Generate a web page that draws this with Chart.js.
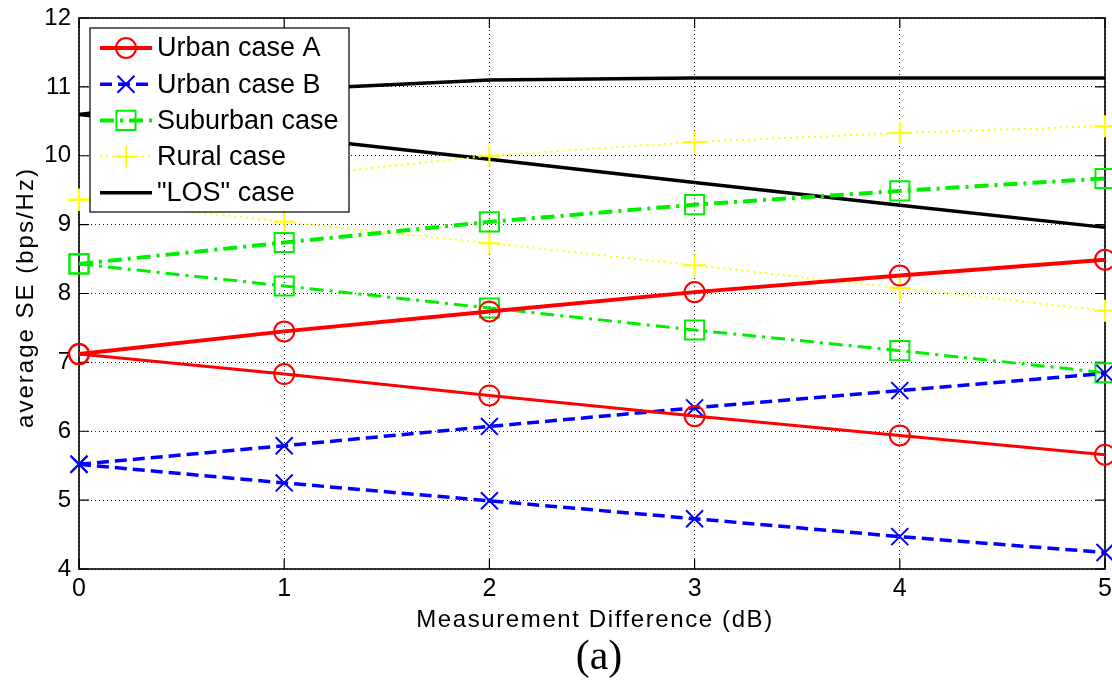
<!DOCTYPE html>
<html>
<head>
<meta charset="utf-8">
<script src="https://cdn.jsdelivr.net/npm/chart.js@4.4.1/dist/chart.umd.min.js"></script>
<style>
  html, body { margin: 0; padding: 0; background: #fff; }
  #wrap { width: 1112px; height: 683px; }
</style>
</head>
<body>
<div id="wrap"><canvas id="c" width="1112" height="683"></canvas></div>
<script>
// Measurement difference (dB) on the x axis
const diffDb = [0, 1, 2, 3, 4, 5];

// Average spectral efficiency (bps/Hz); each case has an upper and a lower branch
const urbanAUp   = [7.12, 7.45, 7.74, 8.02, 8.26, 8.49];
const urbanALow  = [7.12, 6.83, 6.52, 6.22, 5.94, 5.66];
const urbanBUp   = [5.52, 5.79, 6.07, 6.34, 6.59, 6.84];
const urbanBLow  = [5.52, 5.25, 4.99, 4.73, 4.47, 4.24];
const suburbUp   = [8.43, 8.74, 9.04, 9.29, 9.49, 9.67];
const suburbLow  = [8.43, 8.11, 7.79, 7.47, 7.17, 6.85];
const ruralUp    = [9.36, 9.69, 10.00, 10.20, 10.33, 10.43];
const ruralLow   = [9.36, 9.04, 8.73, 8.41, 8.08, 7.75];
const losUp      = [10.60, 10.96, 11.10, 11.13, 11.13, 11.13];
const losLow     = [10.60, 10.28, 9.95, 9.61, 9.28, 8.96];

const xTicks = [0, 1, 2, 3, 4, 5];
const yTicks = [4, 5, 6, 7, 8, 9, 10, 11, 12];

const seriesNames = ['Urban case A', 'Urban case B', 'Suburban case', 'Rural case', '"LOS" case'];
const xTitle = 'Measurement Difference (dB)';
const yTitle = 'average SE (bps/Hz)';
const panelLabel = '(a)';

const toPoints = arr => arr.map((v, i) => ({ x: diffDb[i], y: v }));

// Line/marker appearance for each case
const styles = [
  { color: '#ff0000', dash: [],            marker: 'circle',   radius: 10,   width: [4, 3] },
  { color: '#0000ff', dash: [12, 6],       marker: 'crossRot', radius: 12,   width: [3.5, 3.5] },
  { color: '#00ee00', dash: [14, 6, 3, 6], marker: 'rect',     radius: 13.5, width: [4, 3] },
  { color: '#ffff00', dash: [2, 4],        marker: 'cross',    radius: 11,   width: [2, 2] },
  { color: '#000000', dash: [],            marker: false,      radius: 0,    width: [3.5, 3.5] }
];
const branches = [
  [urbanAUp, urbanALow],
  [urbanBUp, urbanBLow],
  [suburbUp, suburbLow],
  [ruralUp, ruralLow],
  [losUp, losLow]
];

const datasets = [];
branches.forEach((pair, s) => {
  const st = styles[s];
  pair.forEach((arr, b) => {
    datasets.push({
      label: seriesNames[s],
      data: toPoints(arr),
      borderColor: st.color,
      borderWidth: st.width[b],
      borderDash: st.dash,
      pointStyle: st.marker,
      pointRadius: st.radius,
      pointHoverRadius: st.radius,
      pointBorderWidth: 2,
      pointBorderColor: st.color,
      pointBackgroundColor: 'rgba(0,0,0,0)',
      fill: false,
      tension: 0,
      clip: false
    });
  });
});

function drawMarker(ctx, style, r, x, y) {
  ctx.beginPath();
  if (style === 'circle') {
    ctx.arc(x, y, r, 0, Math.PI * 2);
  } else if (style === 'rect') {
    const h = r * Math.SQRT1_2;
    ctx.rect(x - h, y - h, 2 * h, 2 * h);
  } else if (style === 'cross') {
    ctx.moveTo(x - r, y); ctx.lineTo(x + r, y);
    ctx.moveTo(x, y - r); ctx.lineTo(x, y + r);
  } else if (style === 'crossRot') {
    const h = r * Math.SQRT1_2;
    ctx.moveTo(x - h, y - h); ctx.lineTo(x + h, y + h);
    ctx.moveTo(x - h, y + h); ctx.lineTo(x + h, y - h);
  }
  ctx.stroke();
}

// Axes box with inward tick marks
const boxPlugin = {
  id: 'box',
  beforeDatasetsDraw(chart) {
    const { ctx, chartArea: a, scales } = chart;
    const sx = scales.x, sy = scales.y;
    ctx.save();
    ctx.strokeStyle = '#000';
    ctx.setLineDash([]);
    ctx.lineWidth = 1.2;
    ctx.beginPath();
    xTicks.forEach(v => {
      const px = sx.getPixelForValue(v);
      ctx.moveTo(px, a.bottom); ctx.lineTo(px, a.bottom - 10);
      ctx.moveTo(px, a.top); ctx.lineTo(px, a.top + 10);
    });
    yTicks.forEach(v => {
      const py = sy.getPixelForValue(v);
      ctx.moveTo(a.left, py); ctx.lineTo(a.left + 10, py);
      ctx.moveTo(a.right, py); ctx.lineTo(a.right - 10, py);
    });
    ctx.stroke();
    ctx.lineWidth = 1.6;
    ctx.strokeRect(a.left, a.top, a.right - a.left, a.bottom - a.top);
    ctx.restore();
  }
};

// Legend box, axis titles and panel label
const textPlugin = {
  id: 'texts',
  afterDraw(chart) {
    const { ctx, chartArea: a } = chart;
    ctx.save();
    // legend
    const lx = 90, ly = 28, lw = 259, lh = 184;
    ctx.fillStyle = '#fff';
    ctx.fillRect(lx, ly, lw, lh);
    ctx.strokeStyle = '#000';
    ctx.lineWidth = 1.2;
    ctx.setLineDash([]);
    ctx.strokeRect(lx, ly, lw, lh);
    ctx.font = '27px Arial, "Liberation Sans", sans-serif';
    ctx.textBaseline = 'middle';
    ctx.textAlign = 'left';
    seriesNames.forEach((name, i) => {
      const st = styles[i];
      const cy = 48 + i * 36.2;
      ctx.strokeStyle = st.color;
      ctx.lineWidth = st.width[0];
      ctx.setLineDash(st.dash);
      ctx.beginPath();
      ctx.moveTo(100, cy); ctx.lineTo(152, cy);
      ctx.stroke();
      ctx.setLineDash([]);
      ctx.lineWidth = 2;
      if (st.marker) drawMarker(ctx, st.marker, st.radius, 126, cy);
      ctx.fillStyle = '#000';
      ctx.fillText(name, 157, cy + 1);
    });
    // x axis title
    ctx.fillStyle = '#000';
    ctx.font = '24px Arial, "Liberation Sans", sans-serif';
    ctx.letterSpacing = '1.6px';
    ctx.textAlign = 'center';
    ctx.textBaseline = 'alphabetic';
    ctx.fillText(xTitle, (a.left + a.right) / 2 + 3, 627);
    // y axis title
    ctx.save();
    ctx.translate(33, (a.top + a.bottom) / 2 + 4);
    ctx.rotate(-Math.PI / 2);
    ctx.letterSpacing = '2px';
    ctx.fillText(yTitle, 0, 0);
    ctx.restore();
    // panel label
    ctx.letterSpacing = '0px';
    ctx.font = '42px "Liberation Serif", "Times New Roman", serif';
    ctx.fillText(panelLabel, 599, 669);
    ctx.restore();
  }
};

Chart.defaults.font.family = 'Arial, "Liberation Sans", sans-serif';
Chart.defaults.color = '#000';

new Chart(document.getElementById('c'), {
  type: 'line',
  data: { datasets },
  options: {
    responsive: false,
    animation: false,
    devicePixelRatio: 1,
    layout: { autoPadding: false, padding: { top: 18, right: 7, left: 0, bottom: 0 } },
    plugins: { legend: { display: false }, tooltip: { enabled: false } },
    scales: {
      x: {
        type: 'linear',
        min: 0, max: 5,
        afterBuildTicks: s => { s.ticks = xTicks.map(v => ({ value: v })); },
        afterFit: s => { s.height = 114; s.paddingLeft = 0; s.paddingRight = 0; },
        grid: { color: '#222', lineWidth: 1, drawTicks: false },
        border: { display: false, dash: [1, 3] },
        ticks: { font: { size: 25 }, padding: 5, maxRotation: 0, color: '#000' }
      },
      y: {
        min: 4, max: 12,
        afterBuildTicks: s => { s.ticks = yTicks.map(v => ({ value: v })); },
        afterFit: s => { s.width = 79; s.paddingTop = 0; s.paddingBottom = 0; },
        grid: { color: '#222', lineWidth: 1, drawTicks: false },
        border: { display: false, dash: [1, 3] },
        ticks: { font: { size: 24 }, padding: 8, color: '#000' }
      }
    }
  },
  plugins: [boxPlugin, textPlugin]
});
</script>
</body>
</html>
